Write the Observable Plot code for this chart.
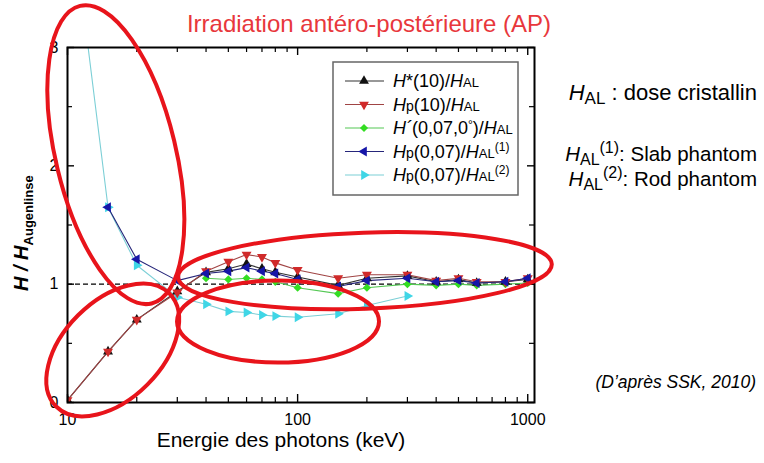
<!DOCTYPE html>
<html><head><meta charset="utf-8">
<script src="https://cdn.jsdelivr.net/npm/d3@7"></script>
<script src="https://cdn.jsdelivr.net/npm/@observablehq/plot@0.6"></script>
<style>
body{margin:0;background:#fff;}
#wrap{position:relative;width:764px;height:463px;}
</style></head><body><div id="wrap"></div>
<script>
// ---- data ----
const energies   = [10, 15, 20, 30, 40, 50, 60, 70, 80, 100, 150, 200, 300, 400, 500, 600, 800, 1000];
const hStar10    = [0.02,0.43,0.70,0.94,1.10,1.13,1.17,1.13,1.10,1.06,0.99,1.05,1.07,1.02,1.04,1.01,1.02,1.04];
const hp10       = [0.02,0.43,0.70,0.93,1.11,1.19,1.25,1.23,1.18,1.12,1.05,1.08,1.08,1.03,1.05,1.02,1.02,1.05];
const hPrime007  = [null,null,null,null,1.05,1.04,1.05,1.04,1.02,0.97,0.92,0.97,1.00,0.99,1.00,0.99,1.00,1.01];
const hp007Slab  = [null,1.65,1.21,1.03,1.09,1.11,1.14,1.11,1.09,1.04,0.98,1.03,1.05,1.02,1.03,1.01,1.02,1.05];
const hp007Rod   = [4.4,1.65,1.16,0.89,0.83,0.77,0.76,0.74,0.73,0.72,0.75,0.82,0.90,null,null,null,null,null];

const xMajorTicks = [10, 100, 1000];
const xMinorTicks = [20,30,40,50,60,70,80,90,200,300,400,500,600,700,800,900];
const yMajorTicks = [0, 1, 2, 3];
const yMinorTicks = [0.5, 1.5, 2.5];
const referenceLine = [1];

const titleText = "Irradiation antéro-postérieure (AP)";
const xLabelText = "Energie des photons (keV)";
const captionText = "(D’après SSK, 2010)";

// annotation ellipses: centre in data units, radii in px, rotation in degrees
const ellipses = [
  {energy: 16.3, value: 2.09, rx: 60, ry: 153, rot: -13.5},
  {energy: 15.8, value: 0.44, rx: 80, ry: 49, rot: -45},
  {energy: 197,  value: 1.11, rx: 187, ry: 38, rot: -2},
  {energy: 82.6, value: 0.68, rx: 101, ry: 41, rot: 0}
];

// ---- custom symbols ----
const sqrt3 = Math.sqrt(3);
const triDown = {draw(c, size){ const y = -Math.sqrt(size/(sqrt3*3)); c.moveTo(0,-2*y); c.lineTo(-sqrt3*y, y); c.lineTo(sqrt3*y, y); c.closePath(); }};
const triLeft = {draw(c, size){ const y = -Math.sqrt(size/(sqrt3*3)); c.moveTo(2*y,0); c.lineTo(-y,-sqrt3*y); c.lineTo(-y, sqrt3*y); c.closePath(); }};
const triRight = {draw(c, size){ const y = -Math.sqrt(size/(sqrt3*3)); c.moveTo(-2*y,0); c.lineTo(y, sqrt3*y); c.lineTo(y,-sqrt3*y); c.closePath(); }};

const series = [
  {key:"rod",   values: hp007Rod,  symbol: triRight, fill:"#3fd6e6", line:"#7ccfd6", d3sym: triRight},
  {key:"green", values: hPrime007, symbol: "diamond2", fill:"#33dd22", line:"#55c855", d3sym: d3.symbolDiamond2},
  {key:"black", values: hStar10,   symbol: "triangle", fill:"#111111", line:"#333333", d3sym: d3.symbolTriangle},
  {key:"red",   values: hp10,      symbol: triDown,  fill:"#d02a2a", line:"#a04444", d3sym: triDown},
  {key:"slab",  values: hp007Slab, symbol: triLeft,  fill:"#1616a8", line:"#26267a", d3sym: triLeft}
];
const rowsOf = s => energies.map((e,i)=>({e, v:s.values[i]})).filter(d=>d.v!=null);

const W=764, H=463, mL=67, mR=230, mT=47, mB=61;
const frameW = W-mL-mR, frameH = H-mT-mB;

const marks = [
  Plot.ruleY(referenceLine, {y: d=>d, stroke:"#000", strokeWidth:1.3, strokeDasharray:"5,3"})
];
for (const s of series) {
  marks.push(Plot.line(rowsOf(s), {x:"e", y:"v", stroke:s.line, strokeWidth:1.1, clip:true}));
}
for (const s of series) {
  marks.push(Plot.dot(rowsOf(s), {x:"e", y:"v", symbol:s.symbol, r:3.7, fill:s.fill, stroke:"none", clip:true}));
}
marks.push(
  Plot.tickX(xMinorTicks, {x:d=>d, insetTop: frameH-5, stroke:"#000", strokeWidth:1.2}),
  Plot.tickX(xMajorTicks, {x:d=>d, insetTop: frameH-8, stroke:"#000", strokeWidth:1.4}),
  Plot.tickX(xMinorTicks, {x:d=>d, insetBottom: frameH-5, stroke:"#000", strokeWidth:1.2}),
  Plot.tickX(xMajorTicks, {x:d=>d, insetBottom: frameH-8, stroke:"#000", strokeWidth:1.4}),
  Plot.tickY(yMinorTicks, {y:d=>d, insetRight: frameW-5, stroke:"#000", strokeWidth:1.2}),
  Plot.tickY(yMajorTicks, {y:d=>d, insetRight: frameW-7, stroke:"#000", strokeWidth:1.4}),
  Plot.tickY(yMinorTicks, {y:d=>d, insetLeft: frameW-5, stroke:"#000", strokeWidth:1.2}),
  Plot.tickY(yMajorTicks, {y:d=>d, insetLeft: frameW-7, stroke:"#000", strokeWidth:1.4}),
  Plot.axisX(xMajorTicks, {tickSize:0, tickPadding:11, tickFormat:d=>String(d), fontSize:16, label:null}),
  Plot.axisY(yMajorTicks, {tickSize:0, tickPadding:9, tickFormat:d=>String(d), fontSize:16, label:null}),
  Plot.frame({stroke:"#000", strokeWidth:2})
);

const chart = Plot.plot({
  width: W, height: H, marginLeft: mL, marginRight: mR, marginTop: mT, marginBottom: mB,
  style: {fontFamily:"'Liberation Sans', Arial, sans-serif", fontSize:"16px", color:"#000", background:"transparent"},
  x: {type:"log", domain:[10, 1070]},
  y: {domain:[0, 3]},
  marks
});
document.getElementById("wrap").appendChild(chart);

const sx = chart.scale("x"), sy = chart.scale("y");
const svg = d3.select(chart);
const FONT = "'Liberation Sans', Arial, sans-serif";

// ellipses
for (const e of ellipses) {
  svg.append("ellipse")
    .attr("transform", `translate(${sx.apply(e.energy)},${sy.apply(e.value)}) rotate(${e.rot})`)
    .attr("rx", e.rx).attr("ry", e.ry)
    .attr("fill", "none").attr("stroke", "#e8141b").attr("stroke-width", 4);
}

function rich(g, x, y, segs, opts={}) {
  const t = g.append("text").attr("x", x).attr("y", y)
    .attr("font-family", FONT).attr("font-size", opts.fs || 17)
    .attr("fill", opts.fill || "#000")
    .attr("text-anchor", opts.anchor || "start");
  if (opts.weight) t.attr("font-weight", opts.weight);
  if (opts.transform) t.attr("transform", opts.transform).attr("x", 0).attr("y", 0);
  let cur = 0;
  for (const s of segs) {
    const sh = s.shift || 0;
    const ts = t.append("tspan").attr("dy", sh - cur).text(s.t);
    if (s.it) ts.attr("font-style", "italic");
    if (s.fs) ts.attr("font-size", s.fs);
    cur = sh;
  }
  return t;
}

// title
rich(svg, 369, 32, [{t: titleText}], {fs: 24, fill:"#e8373c", anchor:"middle"});
// x label
rich(svg, 281, 447, [{t: xLabelText}], {fs: 21, anchor:"middle"});
// y label
rich(svg, 0, 0, [{t:"H / H", it:true}, {t:"Augenlinse", fs:13, shift:5}], {fs:20, weight:"bold", transform:"translate(28,291) rotate(-90)"});

// right notes
rich(svg, 757, 100, [{t:"H", it:true}, {t:"AL", fs:17, shift:4}, {t:" : dose cristallin"}], {fs:22, anchor:"end"});
rich(svg, 757, 161, [{t:"H", it:true}, {t:"AL", fs:16, shift:4}, {t:"(1)", fs:16, shift:-8}, {t:": Slab phantom"}], {fs:20.5, anchor:"end"});
rich(svg, 757, 186, [{t:"H", it:true}, {t:"AL", fs:16, shift:4}, {t:"(2)", fs:16, shift:-8}, {t:": Rod phantom"}], {fs:20.5, anchor:"end"});
// caption
rich(svg, 756, 388, [{t: captionText, it:true}], {fs:17.5, anchor:"end"});

// legend
const lg = svg.append("g");
lg.append("rect").attr("x", 333).attr("y", 62).attr("width", 185).attr("height", 133)
  .attr("fill", "#fff").attr("stroke", "#666").attr("stroke-width", 1.5);
const legendLabels = [
  [{t:"H",it:true},{t:"*(10)/"},{t:"H",it:true},{t:"AL",fs:13}],
  [{t:"H",it:true},{t:"p",fs:14},{t:"(10)/"},{t:"H",it:true},{t:"AL",fs:13}],
  [{t:"H´",it:true},{t:"(0,07,0"},{t:"°",fs:12,shift:-5},{t:")/"},{t:"H",it:true},{t:"AL",fs:13}],
  [{t:"H",it:true},{t:"p",fs:14},{t:"(0,07)/"},{t:"H",it:true},{t:"AL",fs:13},{t:"(1)",fs:12,shift:-7}],
  [{t:"H",it:true},{t:"p",fs:14},{t:"(0,07)/"},{t:"H",it:true},{t:"AL",fs:13},{t:"(2)",fs:12,shift:-7}]
];
const legendOrder = ["black","red","green","slab","rod"];
legendOrder.forEach((k, i) => {
  const s = series.find(d=>d.key===k);
  const cy = 81 + i*23.5;
  lg.append("line").attr("x1", 345).attr("x2", 384).attr("y1", cy).attr("y2", cy).attr("stroke", s.line).attr("stroke-width", 1.2);
  lg.append("path").attr("transform", `translate(364,${cy})`).attr("d", d3.symbol(s.d3sym, 42)()).attr("fill", s.fill);
  rich(lg, 393, cy+6, legendLabels[i], {fs:18});
});
</script></body></html>
